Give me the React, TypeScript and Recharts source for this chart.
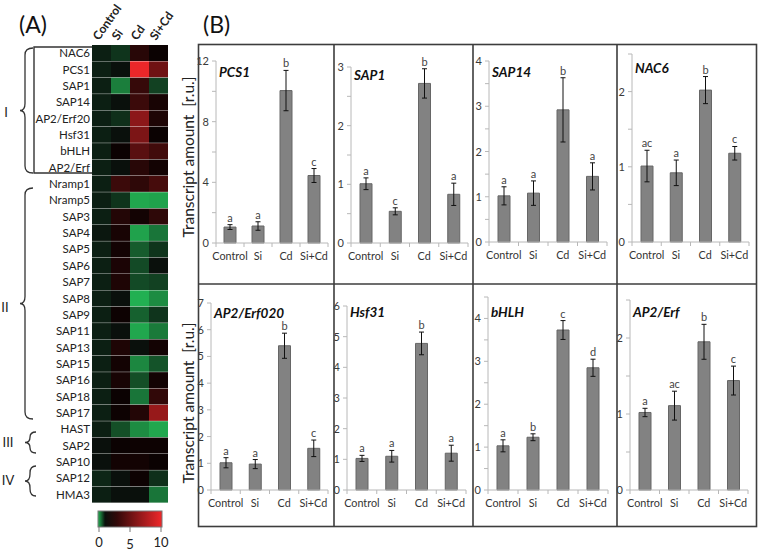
import React from "react";
import { BarChart, Bar, XAxis, YAxis, ErrorBar, LabelList, Cell } from "recharts";

const treatments = ["Control", "Si", "Cd", "Si+Cd"];

// (A) heatmap, relative expression per gene
const heatGenes = [
  "NAC6", "PCS1", "SAP1", "SAP14", "AP2/Erf20", "Hsf31", "bHLH", "AP2/Erf",
  "Nramp1", "Nramp5", "SAP3", "SAP4", "SAP5", "SAP6", "SAP7", "SAP8", "SAP9",
  "SAP11", "SAP13", "SAP15", "SAP16", "SAP18", "SAP17", "HAST", "SAP2", "SAP10",
  "SAP12", "HMA3",
];
const heatControl = [1.0, 1.0, 1.0, 1.0, 1.0, 1.0, 1.0, 1.0, 1.0, 1.0, 1.0, 1.05, 1.0, 1.0, 1.0, 1.0, 1.0, 1.0, 1.0, 1.0, 1.0, 1.0, 1.0, 1.0, 1.1, 1.1, 0.95, 1.0];
const heatSi = [0.86, 1.1, 0.36, 1.1, 0.89, 1.1, 1.5, 1.1, 3.3, 0.86, 2.4, 2.0, 1.8, 2.1, 2.2, 1.1, 1.6, 1.1, 2.2, 1.8, 2.0, 1.5, 1.6, 0.68, 1.5, 1.8, 1.1, 1.1];
const heatCd = [2.6, 9.8, 3.1, 3.3, 6.3, 5.7, 4.4, 2.6, 2.8, 0.09, 1.8, 0.12, 0.59, 0.71, 0.71, 0.03, 0.56, 0.09, 1.1, 0.3, 0.68, 0.42, 2.4, 0.27, 1.6, 1.8, 1.6, 1.1];
const heatSiCd = [1.5, 5.2, 0.77, 2.0, 2.2, 1.5, 3.5, 1.8, 3.7, 0.12, 2.8, 0.42, 0.86, 1.1, 0.77, 0.27, 0.86, 0.39, 1.8, 0.65, 1.8, 2.9, 6.7, 0.09, 1.6, 1.5, 0.89, 0.42];
const colorbarTicks = [0, 5, 10];

// (B) transcript amounts [r.u.], mean / error / significance letter
const pcs1Mean = [1.05, 1.12, 10.05, 4.45];
const pcs1Err = [0.16, 0.28, 1.33, 0.46];
const pcs1Sig = ["a", "a", "b", "c"];

const sap1Mean = [1.01, 0.54, 2.72, 0.83];
const sap1Err = [0.1, 0.06, 0.25, 0.19];
const sap1Sig = ["a", "c", "b", "a"];

const sap14Mean = [1.02, 1.08, 2.92, 1.45];
const sap14Err = [0.2, 0.27, 0.71, 0.3];
const sap14Sig = ["a", "a", "b", "a"];

const nac6Mean = [1.01, 0.92, 2.02, 1.18];
const nac6Err = [0.21, 0.17, 0.18, 0.09];
const nac6Sig = ["ac", "a", "b", "c"];

const erf020Mean = [1.02, 0.97, 5.4, 1.56];
const erf020Err = [0.19, 0.17, 0.47, 0.31];
const erf020Sig = ["a", "a", "b", "c"];

const hsf31Mean = [1.03, 1.1, 4.78, 1.2];
const hsf31Err = [0.1, 0.19, 0.37, 0.26];
const hsf31Sig = ["a", "a", "b", "a"];

const bhlhMean = [1.03, 1.23, 3.73, 2.85];
const bhlhErr = [0.14, 0.08, 0.22, 0.2];
const bhlhSig = ["a", "b", "c", "d"];

const erfMean = [1.02, 1.11, 1.95, 1.44];
const erfErr = [0.055, 0.19, 0.23, 0.19];
const erfSig = ["a", "ac", "b", "c"];

const AXIS = "#b8b8b8";
const FONT = "Lato, 'Open Sans', sans-serif";

function heatColor(v: number): string {
  const mid = 1.1;
  if (v <= mid) {
    const t = (mid - v) / mid;
    return `rgb(${Math.round(10 + 25 * t)},${Math.round(16 + 164 * t)},${Math.round(12 + 72 * t)})`;
  }
  const t = Math.min(1, (v - mid) / (10 - mid));
  return `rgb(${Math.round(240 * t)},${Math.round(40 * t)},${Math.round(42 * t)})`;
}

interface PanelCfg {
  name: string;
  mean: number[];
  err: number[];
  sig: string[];
  cell: [number, number, number, number];
  plot: [number, number, number, number];
  max: number;
  step: number;
  labelStep: number;
  titleY: number;
}

const panels: PanelCfg[] = [
  { name: "PCS1", mean: pcs1Mean, err: pcs1Err, sig: pcs1Sig, cell: [198, 44, 334, 284], plot: [216, 61, 328, 243], max: 12, step: 2, labelStep: 4, titleY: 77 },
  { name: "SAP1", mean: sap1Mean, err: sap1Err, sig: sap1Sig, cell: [334, 44, 473, 284], plot: [351, 67, 468, 243], max: 3, step: 0.5, labelStep: 1, titleY: 80 },
  { name: "SAP14", mean: sap14Mean, err: sap14Err, sig: sap14Sig, cell: [473, 44, 617, 284], plot: [489, 61, 607, 242], max: 4, step: 0.5, labelStep: 1, titleY: 77 },
  { name: "NAC6", mean: nac6Mean, err: nac6Err, sig: nac6Sig, cell: [617, 44, 757, 284], plot: [632, 54, 749, 242], max: 2.5, step: 0.5, labelStep: 1, titleY: 73 },
  { name: "AP2/Erf020", mean: erf020Mean, err: erf020Err, sig: erf020Sig, cell: [198, 284, 334, 527], plot: [211, 303, 328, 490], max: 7, step: 1, labelStep: 1, titleY: 318 },
  { name: "Hsf31", mean: hsf31Mean, err: hsf31Err, sig: hsf31Sig, cell: [334, 284, 473, 527], plot: [347, 306, 466, 490], max: 6, step: 1, labelStep: 1, titleY: 317 },
  { name: "bHLH", mean: bhlhMean, err: bhlhErr, sig: bhlhSig, cell: [473, 284, 617, 527], plot: [488, 297, 608, 490], max: 4.5, step: 0.5, labelStep: 1, titleY: 317 },
  { name: "AP2/Erf", mean: erfMean, err: erfErr, sig: erfSig, cell: [617, 284, 757, 527], plot: [630, 300, 748, 490], max: 2.5, step: 0.5, labelStep: 1, titleY: 317 },
];

function GenePanel({ cfg }: { cfg: PanelCfg }) {
  const [cellX0, cy0, cx1, cy1] = cfg.cell;
  const cx0 = cellX0 - 8; // let tick labels reach the frame
  const [px0, py0, px1, py1] = cfg.plot;
  const xAxisH = 20;
  const margin = { top: py0 - cy0, right: cx1 - px1, bottom: cy1 - py1 - xAxisH, left: 0 };
  const band = (px1 - px0) / treatments.length;
  const axisY = py1 - cy0;
  const plotLeft = px0 - cx0;

  const data = treatments.map((t, i) => ({ group: t, mean: cfg.mean[i], err: cfg.err[i], sig: cfg.sig[i] }));
  const ticks: number[] = [];
  for (let v = 0; v <= cfg.max + 1e-9; v += cfg.step) ticks.push(+v.toFixed(2));

  const renderYTick = (p: any) => {
    const v = Number(p.payload.value);
    const r = v / cfg.labelStep;
    if (Math.abs(r - Math.round(r)) > 1e-6) return <g />;
    return (
      <text x={p.x} y={p.y} dy={4} textAnchor="end" fontSize={11} fill="#3a3a3a">
        {v}
      </text>
    );
  };

  const renderXTick = (p: any) => (
    <g>
      <line x1={p.x - band / 2} x2={p.x - band / 2} y1={axisY} y2={axisY + 4} stroke={AXIS} />
      {p.index === treatments.length - 1 ? (
        <line x1={p.x + band / 2} x2={p.x + band / 2} y1={axisY} y2={axisY + 4} stroke={AXIS} />
      ) : null}
      <text x={p.x} y={axisY + 17} textAnchor="middle" fontSize={10.8} fill="#333">
        {p.payload.value}
      </text>
    </g>
  );

  const renderSig = (p: any) => {
    const vb = p.viewBox || {};
    const x = Number(p.x ?? vb.x);
    const y = Number(p.y ?? vb.y);
    const w = Number(p.width ?? vb.width);
    const h = Math.abs(Number(p.height ?? vb.height));
    const mid = x + w / 2;
    const i = Math.max(0, Math.min(3, Math.floor((mid - plotLeft) / band)));
    const errPx = (h * cfg.err[i]) / cfg.mean[i];
    return (
      <text x={mid} y={y - errPx - 3} textAnchor="middle" fontSize={11} fill="#444">
        {p.value}
      </text>
    );
  };

  return (
    <div style={{ position: "absolute", left: cx0, top: cy0 }}>
      <BarChart width={cx1 - cx0} height={cy1 - cy0} data={data} margin={margin} barSize={12}>
        <XAxis dataKey="group" height={xAxisH} interval={0} axisLine={{ stroke: AXIS }} tickLine={false} tick={renderXTick} />
        <YAxis
          type="number"
          width={plotLeft}
          domain={[0, cfg.max]}
          ticks={ticks}
          interval={0}
          tickSize={4}
          tickMargin={3}
          axisLine={{ stroke: AXIS }}
          tickLine={{ stroke: AXIS }}
          tick={renderYTick}
        />
        <Bar dataKey="mean" fill="#828282" stroke="#666" strokeWidth={1} isAnimationActive={false}>
          <ErrorBar dataKey="err" width={2.5} stroke="#111" strokeWidth={1} />
          <LabelList dataKey="sig" content={renderSig} />
        </Bar>
      </BarChart>
    </div>
  );
}

function Heatmap() {
  const rows = heatGenes.map((g) => ({ gene: g, u0: 1, u1: 1, u2: 1, u3: 1 }));
  const cols = [heatControl, heatSi, heatCd, heatSiCd];
  const renderGene = (p: any) => (
    <text x={p.x} y={p.y} dy={4} textAnchor="end" fontSize={11.5} fill="#222">
      {p.payload.value}
    </text>
  );
  return (
    <div style={{ position: "absolute", left: 0, top: 0 }}>
      <BarChart
        layout="vertical"
        width={170}
        height={552}
        data={rows}
        margin={{ top: 45, right: 2, bottom: 49, left: 0 }}
        barCategoryGap={0}
        barGap={0}
      >
        <XAxis type="number" domain={[0, 4]} hide />
        <YAxis type="category" dataKey="gene" width={92} interval={0} axisLine={false} tickLine={false} tickSize={0} tickMargin={2} tick={renderGene} />
        {cols.map((col, c) => (
          <Bar key={c} dataKey={`u${c}`} stackId="heat" isAnimationActive={false}>
            {col.map((v, i) => (
              <Cell key={i} fill={heatColor(v)} />
            ))}
          </Bar>
        ))}
      </BarChart>
    </div>
  );
}

function curly(x: number, hook: number, top: number, bottom: number): string {
  const m = (top + bottom) / 2;
  const r = Math.min(7, (bottom - top) / 4);
  return `M${x + hook},${top} Q${x},${top} ${x},${top + r} L${x},${m - r} Q${x},${m} ${x - 5},${m} Q${x},${m} ${x},${m + r} L${x},${bottom - r} Q${x},${bottom} ${x + hook},${bottom}`;
}

function Overlay() {
  const headerX = [99, 118, 137, 156];
  const stops = [0, 0.55, 1.1, 3, 5.5, 8, 10];
  return (
    <svg width={760} height={552} style={{ position: "absolute", left: 0, top: 0, pointerEvents: "none" }}>
      <defs>
        <linearGradient id="cbar" x1="0" x2="1" y1="0" y2="0">
          {stops.map((v) => (
            <stop key={v} offset={`${v * 10}%`} stopColor={heatColor(v)} />
          ))}
        </linearGradient>
      </defs>
      <text x={19} y={33} fontSize={23} fill="#111">(A)</text>
      <text x={203} y={33} fontSize={23} fill="#111">(B)</text>

      {treatments.map((t, i) => (
        <text key={t} x={headerX[i]} y={41} fontSize={12} fontWeight="bold" fill="#222" transform={`rotate(-55 ${headerX[i]} 41)`}>
          {t}
        </text>
      ))}

      {/* gene groups */}
      <path d="M92,47 L34,47 L34,173 L92,173" fill="none" stroke="#333" strokeWidth={1.4} />
      <path d={curly(25, 8, 48, 173)} fill="none" stroke="#333" strokeWidth={1.3} />
      <path d={curly(25, 8, 188, 419)} fill="none" stroke="#333" strokeWidth={1.3} />
      <path d={curly(30, 6, 432, 453)} fill="none" stroke="#333" strokeWidth={1.3} />
      <path d={curly(30, 6, 466, 496)} fill="none" stroke="#333" strokeWidth={1.3} />
      <text x={6} y={117} fontSize={13} textAnchor="middle" fill="#222">I</text>
      <text x={5} y={312} fontSize={13} textAnchor="middle" fill="#222">II</text>
      <text x={8} y={447} fontSize={13} textAnchor="middle" fill="#222">III</text>
      <text x={8} y={485} fontSize={13} textAnchor="middle" fill="#222">IV</text>

      {/* colour key */}
      <rect x={98} y={511} width={64} height={16} fill="url(#cbar)" stroke="#777" strokeWidth={1} />
      {colorbarTicks.map((v) => {
        const x = 99 + (v / 10) * 62;
        return (
          <g key={v}>
            <line x1={x} x2={x} y1={527} y2={532} stroke="#777" />
            <text x={x} y={v === 5 ? 549 : 547} fontSize={13} textAnchor="middle" fill="#222">
              {v}
            </text>
          </g>
        );
      })}

      {/* panel B frame */}
      <rect x={198.5} y={44.5} width={558} height={482} fill="none" stroke="#3d3d3d" strokeWidth={1.6} />
      {[334, 473, 617].map((x) => (
        <line key={x} x1={x} x2={x} y1={44} y2={527} stroke="#3d3d3d" strokeWidth={1.6} />
      ))}
      <line x1={198} x2={757} y1={284} y2={284} stroke="#3d3d3d" strokeWidth={1.6} />

      {[157, 403].map((cy) => (
        <text key={cy} x={188} y={cy} fontSize={15.5} textAnchor="middle" dominantBaseline="central" fill="#222" transform={`rotate(-90 188 ${cy})`}>
          Transcript amount&#160; [r.u.]
        </text>
      ))}

      {panels.map((p) => (
        <text key={p.name} x={p.plot[0] + 3} y={p.titleY} fontSize={13.5} fontWeight="bold" fontStyle="italic" fill="#111">
          {p.name}
        </text>
      ))}
    </svg>
  );
}

export default function App() {
  return (
    <div style={{ position: "absolute", left: 0, top: 0, width: 760, height: 552, background: "#fff", fontFamily: FONT, overflow: "hidden" }}>
      <Heatmap />
      {panels.map((p) => (
        <GenePanel key={p.name} cfg={p} />
      ))}
      <Overlay />
    </div>
  );
}
